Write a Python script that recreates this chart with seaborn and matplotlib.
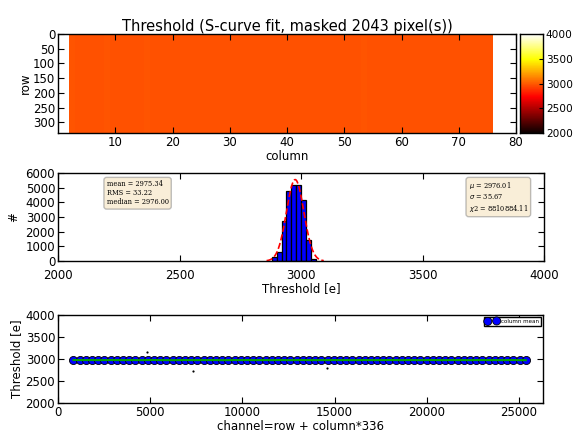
import numpy as np
import pandas as pd
import matplotlib
matplotlib.use("Agg")
import matplotlib.pyplot as plt
import seaborn as sns

# ---------------- data ----------------
n_rows = 336
n_cols = 80
first_col = 2
col_means = [2977, 2976, 2975, 2976, 2974, 2975, 2977, 2975, 2974, 2976,
             2975, 2974, 2976, 2977, 2975, 2974, 2973, 2975, 2976, 2975,
             2974, 2975, 2976, 2975, 2973, 2974, 2976, 2975, 2976, 2974,
             2975, 2975, 2974, 2976, 2975, 2974, 2975, 2976, 2975, 2974,
             2975, 2974, 2976, 2975, 2975, 2974, 2975, 2976, 2975, 2974,
             2975, 2977, 2975, 2974, 2976, 2975, 2974, 2975, 2976, 2975,
             2974, 2976, 2975, 2975, 2974, 2975, 2976, 2975, 2975, 2974,
             2975, 2976, 2974, 2973]
hist_edges = [2880, 2900, 2920, 2940, 2960, 2980, 3000, 3020, 3040, 3060]
hist_counts = [250, 600, 2700, 4750, 5200, 5150, 4150, 1450, 120]
fit_mu = 2976.01
fit_sigma = 35.67
fit_amp = 5550
outlier_channel = [4836, 7295, 14563]
outlier_threshold = [3159, 2727, 2795]
stats_lines = ["mean = 2975.34", "RMS = 33.22", "median = 2976.00"]
fit_lines = [r"$\mu$ = 2976.01", r"$\sigma$ = 35.67", r"$\chi$2 = 8810884.11"]
title = "Threshold (S-curve fit, masked 2043 pixel(s))"

# ---------------- style ----------------
plt.rcParams.update({
    "font.family": ["DejaVu Sans"],
    "font.size": 8.5,
    "xtick.direction": "in",
    "ytick.direction": "in",
    "xtick.top": True,
    "ytick.right": True,
    "xtick.major.size": 4,
    "ytick.major.size": 4,
    "axes.linewidth": 1.0,
    "axes.edgecolor": "black",
    "xtick.labelsize": 8.5,
    "ytick.labelsize": 8.5,
    "axes.labelsize": 8.5,
})

W, H = 576, 441
fig = plt.figure(figsize=(W / 100, H / 100), dpi=100)


def rect(x0, y0, x1, y1):
    return [x0 / W, 1 - y1 / H, (x1 - x0) / W, (y1 - y0) / H]


ax1 = fig.add_axes(rect(58, 34, 516, 133))
cax = fig.add_axes(rect(520, 34, 543, 133))
ax2 = fig.add_axes(rect(58, 173, 544, 261))
ax3 = fig.add_axes(rect(58, 315, 543, 403))

# ---------------- heatmap ----------------
mat = np.full((n_rows, n_cols), np.nan)
for i, v in enumerate(col_means):
    mat[:, first_col + i] = v
df = pd.DataFrame(mat)
sns.heatmap(df, ax=ax1, cmap="hot", vmin=2000, vmax=4000, cbar_ax=cax,
            xticklabels=False, yticklabels=False)
for s in ax1.spines.values():
    s.set_visible(True)
    s.set_color("black")
    s.set_linewidth(1.0)
ax1.set_xlim(0, n_cols)
ax1.set_ylim(n_rows, 0)
ax1.set_xticks(range(10, 81, 10))
ax1.set_xticklabels([str(t) for t in range(10, 81, 10)])
ax1.set_yticks(range(0, 301, 50))
ax1.set_yticklabels([str(t) for t in range(0, 301, 50)], rotation=0)
ax1.tick_params(direction="in", top=True, right=True, length=4, labelsize=8.5,
                bottom=True, left=True, pad=2)
ax1.set_xlabel("column", labelpad=1)
ax1.set_ylabel("row", labelpad=1)
ax1.set_title(title, fontsize=10.5, pad=2)
cax.set_yticks([2000, 2500, 3000, 3500, 4000])
cax.tick_params(direction="in", length=3, labelsize=7.6, right=True, pad=2)
for s in cax.spines.values():
    s.set_visible(True)
    s.set_color("black")

# ---------------- histogram ----------------
centers = [(a + b) / 2 for a, b in zip(hist_edges[:-1], hist_edges[1:])]
sns.histplot(x=centers, weights=hist_counts, bins=hist_edges, ax=ax2,
             color="#0000ff", edgecolor="black", alpha=1, linewidth=0.9)
xs = np.linspace(fit_mu - 3.3 * fit_sigma, fit_mu + 3.3 * fit_sigma, 400)
ys = fit_amp * np.exp(-0.5 * ((xs - fit_mu) / fit_sigma) ** 2)
sns.lineplot(x=xs, y=ys, ax=ax2, color="red", linestyle="--", linewidth=1.2)
ax2.set_xlim(2000, 4000)
ax2.set_ylim(0, 6000)
ax2.set_xticks([2000, 2500, 3000, 3500, 4000])
ax2.set_yticks(range(0, 6001, 1000))
ax2.set_xlabel("Threshold [e]", labelpad=0)
ax2.set_ylabel("#", labelpad=4)
ax2.tick_params(axis="y", pad=2)
ax2.tick_params(axis="x", pad=6)
box = dict(boxstyle="round,pad=0.4", facecolor="wheat", alpha=0.5, edgecolor="gray")
ax2.text(0.1, 0.92, "\n".join(stats_lines), transform=ax2.transAxes, va="top", ha="left",
         fontsize=4.8, family="DejaVu Serif", bbox=box, linespacing=1.2)
ax2.text(0.845, 0.92, "\n".join(fit_lines), transform=ax2.transAxes, va="top", ha="left",
         fontsize=4.8, family="DejaVu Serif", bbox=box, linespacing=1.2)

# ---------------- channel scatter ----------------
channels = [(first_col + i) * n_rows + n_rows / 2 for i in range(len(col_means))]
sns.scatterplot(x=channels, y=col_means, ax=ax3, color="#0000ff", edgecolor="black",
                linewidth=0.6, s=34, label="column mean", zorder=3)
sns.lineplot(x=channels, y=col_means, ax=ax3, color="#00a000", linewidth=1.5, zorder=4)
sns.scatterplot(x=outlier_channel, y=outlier_threshold, ax=ax3, color="black", s=2.5,
                linewidth=0, zorder=2)
ax3.set_xlim(0, 26300)
ax3.set_ylim(2000, 4000)
ax3.set_xticks([0, 5000, 10000, 15000, 20000, 25000])
ax3.set_yticks([2000, 2500, 3000, 3500, 4000])
ax3.set_xlabel("channel=row + column*336", labelpad=1)
ax3.set_ylabel("Threshold [e]", labelpad=2)
ax3.tick_params(pad=2)
leg = ax3.legend(loc="upper right", fontsize=4, scatterpoints=2, fancybox=False,
                 framealpha=1, edgecolor="black", borderpad=0.3, handletextpad=0.5,
                 borderaxespad=0.4, handlelength=2.2)
leg.get_frame().set_linewidth(1.0)

fig.savefig("out.png", dpi=100)
